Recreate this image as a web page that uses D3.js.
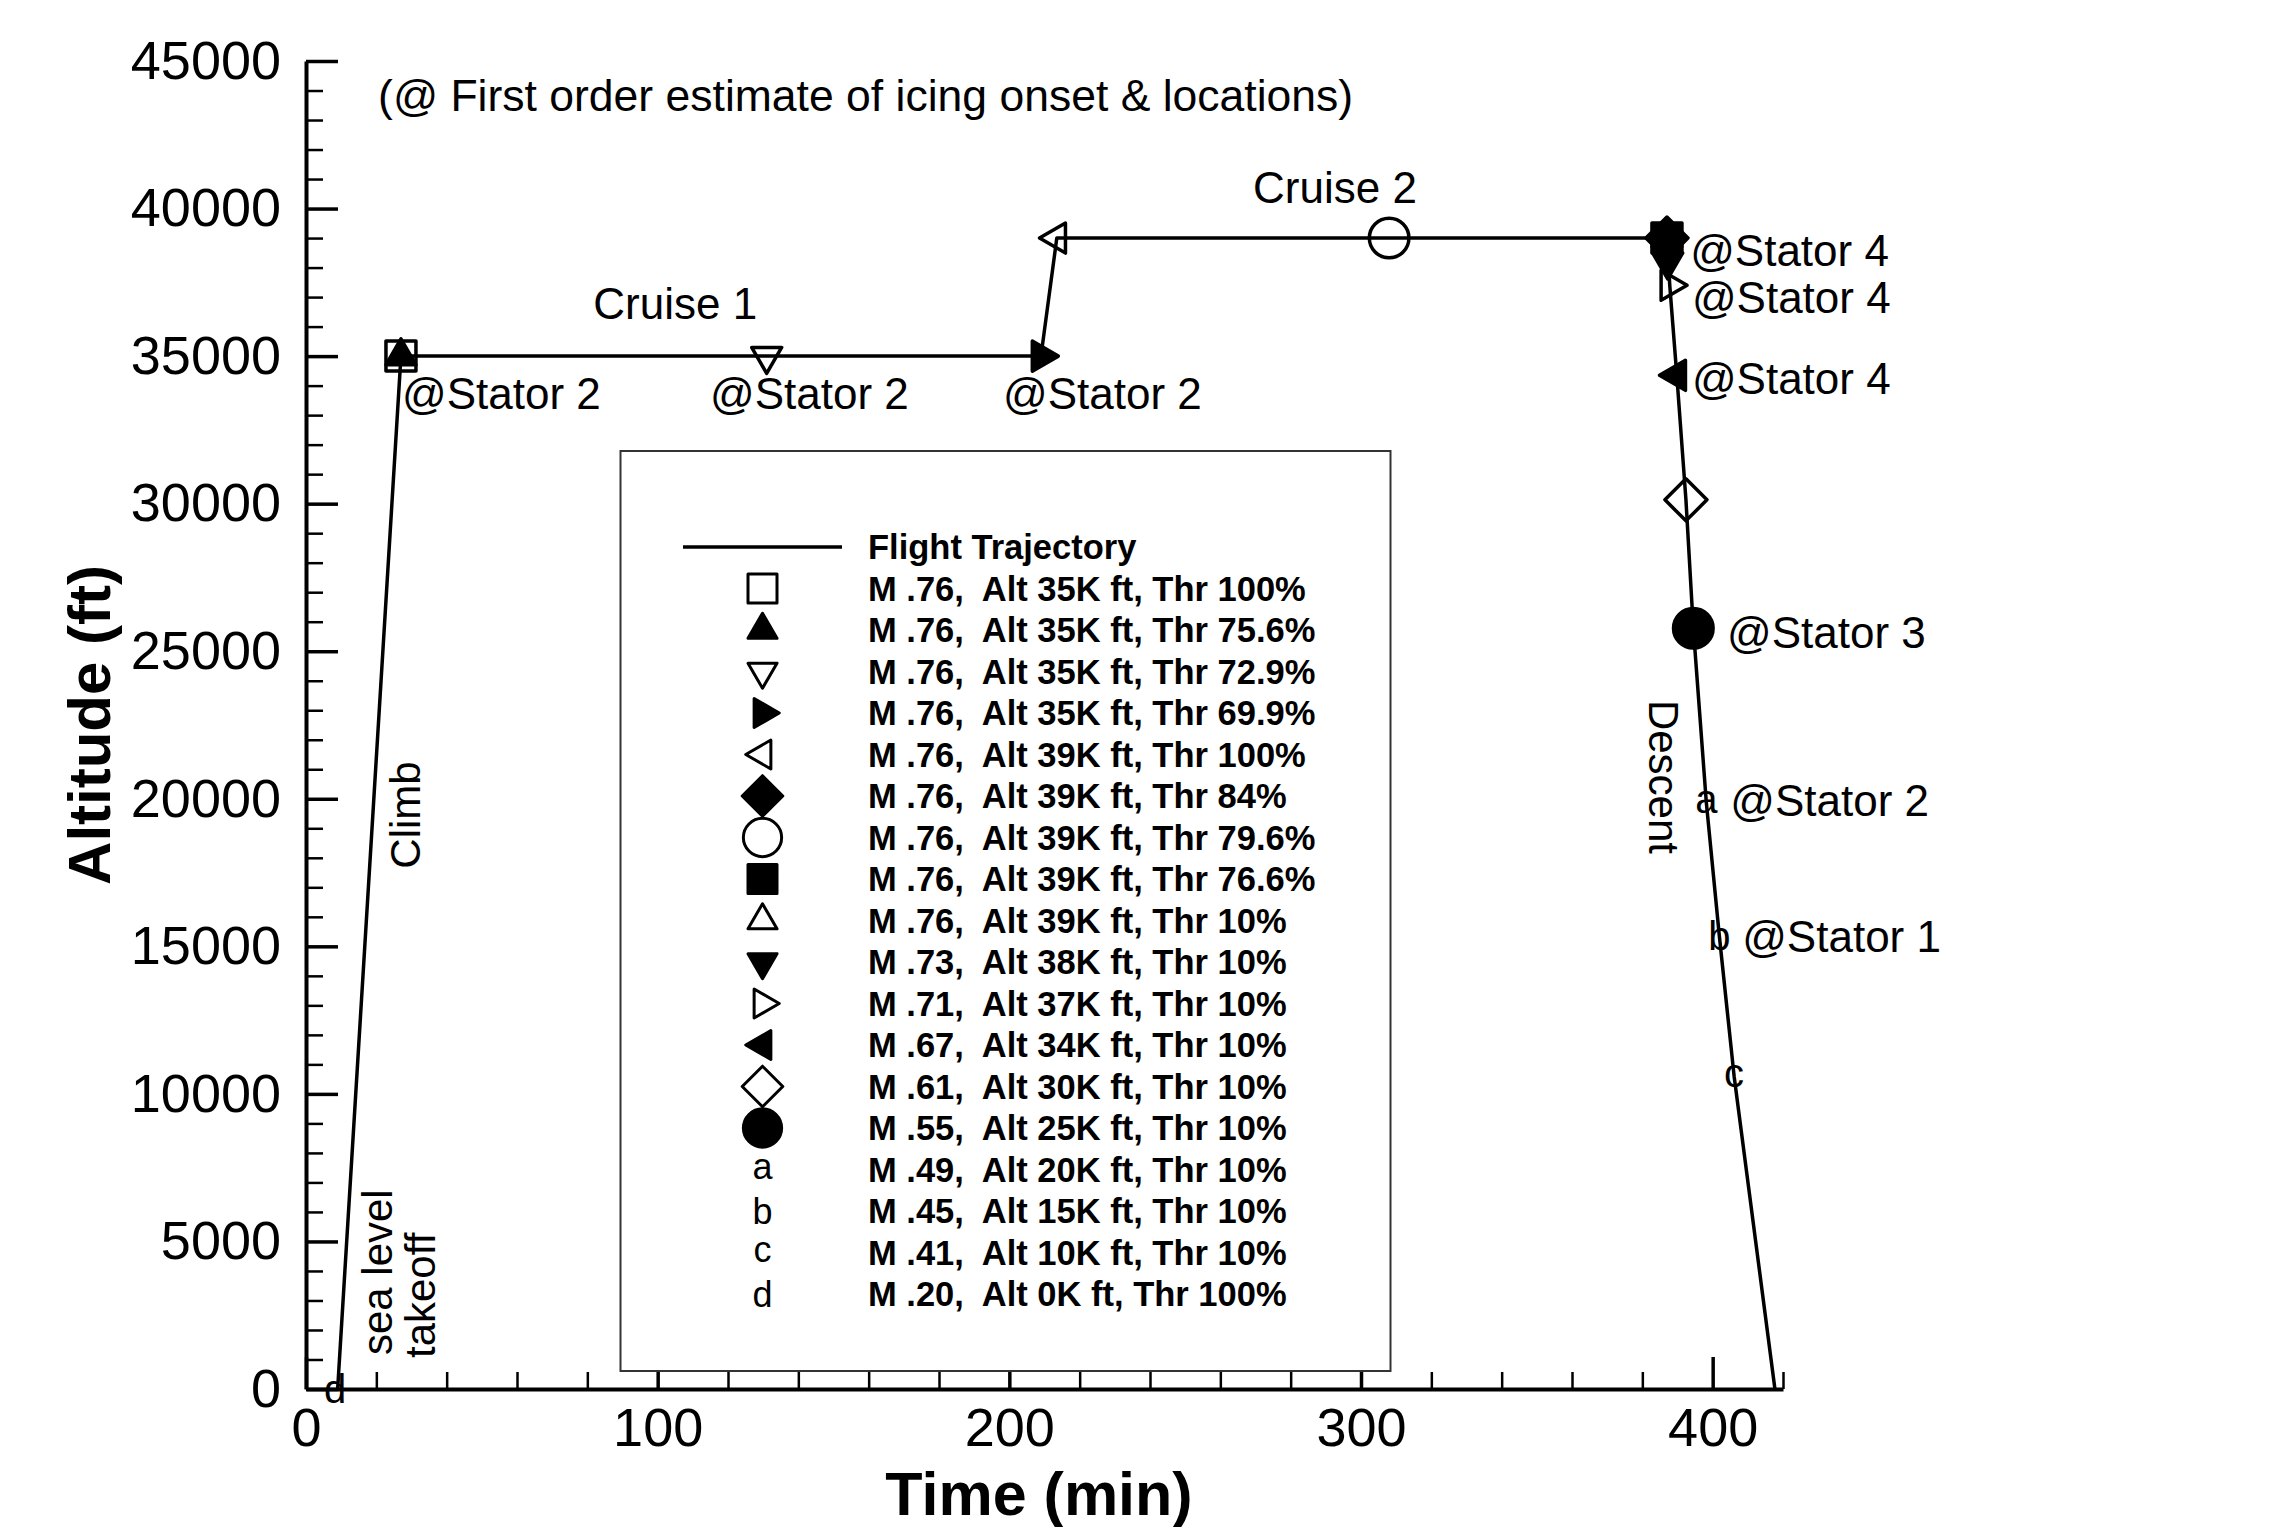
<!DOCTYPE html>
<html>
<head>
<meta charset="utf-8">
<script src="https://cdn.jsdelivr.net/npm/d3@7"></script>
<style>
  body { margin: 0; background: #fff; }
  svg { display: block; font-family: "Liberation Sans", Arial, Helvetica, sans-serif; }
</style>
</head>
<body>
<script>
// flight trajectory: time (min) and altitude (ft)
const trajTime = [9, 27, 209, 213.5, 387, 387.8, 389.8, 392.4, 394.5, 398.2, 401.9, 406.1, 417.7];
const trajAlt = [0, 35000, 35000, 39000, 39000, 37400, 34350, 30130, 25780, 19870, 15350, 10600, 0];

// icing onset points, in legend order
const pointSymbol = ['square', 'triUp', 'triDown', 'triRight', 'triLeft', 'diamond', 'circle', 'square',
  'triUp', 'triDown', 'triRight', 'triLeft', 'diamond', 'circle', 'a', 'b', 'c', 'd'];
const pointFilled = [false, true, false, true, false, true, false, true,
  false, true, false, true, false, true, false, false, false, false];
const pointTime = [27, 27, 131, 209, 213.5, 387, 308, 387, 387, 387.2, 387.8, 389.8, 392.4, 394.5, 398.2, 401.9, 406.1, 8.3];
const pointAlt = [35000, 35000, 35000, 35000, 39000, 39000, 39000, 39000, 39000, 38200, 37400, 34350, 30130, 25780, 19870, 15350, 10600, 0];
const pointLabel = [
  'M .76,  Alt 35K ft, Thr 100%',
  'M .76,  Alt 35K ft, Thr 75.6%',
  'M .76,  Alt 35K ft, Thr 72.9%',
  'M .76,  Alt 35K ft, Thr 69.9%',
  'M .76,  Alt 39K ft, Thr 100%',
  'M .76,  Alt 39K ft, Thr 84%',
  'M .76,  Alt 39K ft, Thr 79.6%',
  'M .76,  Alt 39K ft, Thr 76.6%',
  'M .76,  Alt 39K ft, Thr 10%',
  'M .73,  Alt 38K ft, Thr 10%',
  'M .71,  Alt 37K ft, Thr 10%',
  'M .67,  Alt 34K ft, Thr 10%',
  'M .61,  Alt 30K ft, Thr 10%',
  'M .55,  Alt 25K ft, Thr 10%',
  'M .49,  Alt 20K ft, Thr 10%',
  'M .45,  Alt 15K ft, Thr 10%',
  'M .41,  Alt 10K ft, Thr 10%',
  'M .20,  Alt 0K ft, Thr 100%'
];

// text notes placed in data coordinates
const noteText = ['(@ First order estimate of icing onset & locations)', 'Cruise 1', 'Cruise 2',
  '@Stator 2', '@Stator 2', '@Stator 2', '@Stator 4', '@Stator 4', '@Stator 4', '@Stator 3', '@Stator 2', '@Stator 1'];
const noteTime = [20.5, 105, 292.6, 27.3, 114.9, 198.2, 393.6, 394.1, 394.1, 404.1, 405, 408.4];
const noteAlt = [43300, 36250, 40200, 33200, 33200, 33200, 38050, 36450, 33700, 25100, 19400, 14800];
const noteAnchor = ['start', 'middle', 'middle', 'start', 'start', 'start', 'start', 'start', 'start', 'start', 'start', 'start'];

// rotated flight phase labels
const phaseText = ['Climb', 'Descent', 'sea level', 'takeoff'];
const phaseTime = [32.4, 381.9, 24.5, 36.6];
const phaseAlt = [19450, 20740, 1150, 1050];
const phaseAngle = [-90, 90, -90, -90];
const phaseAnchor = ['middle', 'middle', 'start', 'start'];

// axes
const timeTicks = [0, 100, 200, 300, 400];
const altTicks = [0, 5000, 10000, 15000, 20000, 25000, 30000, 35000, 40000, 45000];

const width = 2295;
const height = 1527;

const x = d3.scaleLinear().domain([0, 420]).range([306, 1783]);
const y = d3.scaleLinear().domain([0, 45000]).range([1389, 61]);

const svg = d3.select('body')
  .append('svg')
  .attr('width', width)
  .attr('height', height)
  .attr('viewBox', [0, 0, width, height]);

svg.append('rect').attr('width', width).attr('height', height).attr('fill', '#fff');

function shape(kind, s) {
  const h = s * 0.866;
  if (kind === 'square') return `M${-s / 2},${-s / 2}h${s}v${s}h${-s}Z`;
  if (kind === 'triUp') return `M0,${-2 * h / 3}L${s / 2},${h / 3}L${-s / 2},${h / 3}Z`;
  if (kind === 'triDown') return `M0,${2 * h / 3}L${s / 2},${-h / 3}L${-s / 2},${-h / 3}Z`;
  if (kind === 'triRight') return `M${2 * h / 3},0L${-h / 3},${s / 2}L${-h / 3},${-s / 2}Z`;
  if (kind === 'triLeft') return `M${-2 * h / 3},0L${h / 3},${s / 2}L${h / 3},${-s / 2}Z`;
  if (kind === 'diamond') {
    const d = s * 0.7;
    return `M0,${-d}L${d},0L0,${d}L${-d},0Z`;
  }
  const r = s * 0.66;
  return `M${r},0A${r},${r} 0 1,1 ${-r},0A${r},${r} 0 1,1 ${r},0Z`;
}

// letter markers: shift so the glyph itself is centred on the point
const letterDy = { a: '0.26em', b: '0.36em', c: '0.26em', d: '0.36em' };

function drawMarker(g, kind, filled, size, letterSize, sw) {
  if (kind.length === 1) {
    g.append('text')
      .attr('text-anchor', 'middle')
      .attr('dy', letterDy[kind])
      .attr('font-size', letterSize)
      .attr('fill', '#000')
      .text(kind);
  } else {
    g.append('path')
      .attr('d', shape(kind, size))
      .attr('fill', filled ? '#000' : 'none')
      .attr('stroke', '#000')
      .attr('stroke-width', sw)
      .attr('stroke-linejoin', 'round');
  }
}

// ---- axes ----
const xAxis = svg.append('g')
  .attr('transform', `translate(0,${y(0)})`)
  .call(d3.axisBottom(x).tickValues(timeTicks).tickFormat(d3.format('d'))
    .tickSizeInner(-32).tickSizeOuter(0).tickPadding(19));
const xMinor = svg.append('g')
  .attr('transform', `translate(0,${y(0)})`)
  .call(d3.axisBottom(x).tickValues(d3.range(0, 421, 20).filter((v) => v % 100 !== 0))
    .tickSize(-17).tickFormat(''));

const yAxis = svg.append('g')
  .attr('transform', `translate(${x(0)},0)`)
  .call(d3.axisLeft(y).tickValues(altTicks).tickFormat(d3.format('d'))
    .tickSizeInner(-32).tickSizeOuter(0).tickPadding(25));
const yMinor = svg.append('g')
  .attr('transform', `translate(${x(0)},0)`)
  .call(d3.axisLeft(y).tickValues(d3.range(0, 45001, 1000).filter((v) => v % 5000 !== 0))
    .tickSize(-17).tickFormat(''));

[xMinor, yMinor].forEach((g) => {
  g.select('.domain').remove();
  g.selectAll('line').attr('stroke', '#000').attr('stroke-width', 2.5);
});
[xAxis, yAxis].forEach((g) => {
  g.select('.domain').attr('stroke', '#000').attr('stroke-width', 4);
  g.selectAll('line').attr('stroke', '#000').attr('stroke-width', 3.5);
  g.selectAll('text')
    .attr('font-family', '"Liberation Sans", Arial, sans-serif')
    .attr('font-size', 54)
    .attr('fill', '#000');
});

svg.append('text')
  .attr('x', 1039)
  .attr('y', 1515)
  .attr('text-anchor', 'middle')
  .attr('font-size', 61)
  .attr('font-weight', 'bold')
  .text('Time (min)');

svg.append('text')
  .attr('transform', `translate(110,${(y(0) + y(45000)) / 2}) rotate(-90)`)
  .attr('text-anchor', 'middle')
  .attr('font-size', 60)
  .attr('font-weight', 'bold')
  .text('Altitude (ft)');

// ---- trajectory ----
const line = d3.line()
  .x((d) => x(d[0]))
  .y((d) => y(d[1]));

svg.append('path')
  .datum(d3.zip(trajTime, trajAlt))
  .attr('d', line)
  .attr('fill', 'none')
  .attr('stroke', '#000')
  .attr('stroke-width', 3.5)
  .attr('stroke-linejoin', 'round');

// ---- points ----
pointSymbol.forEach((kind, i) => {
  const g = svg.append('g')
    .attr('transform', `translate(${x(pointTime[i])},${y(pointAlt[i])})`);
  drawMarker(g, kind, pointFilled[i], 30, 40, 3.5);
});

// ---- notes ----
noteText.forEach((t, i) => {
  svg.append('text')
    .attr('x', x(noteTime[i]))
    .attr('y', y(noteAlt[i]))
    .attr('text-anchor', noteAnchor[i])
    .attr('font-size', i === 0 ? 44.5 : 44)
    .attr('fill', '#000')
    .text(t);
});

phaseText.forEach((t, i) => {
  svg.append('text')
    .attr('transform', `translate(${x(phaseTime[i])},${y(phaseAlt[i])}) rotate(${phaseAngle[i]})`)
    .attr('text-anchor', phaseAnchor[i])
    .attr('font-size', 42)
    .attr('fill', '#000')
    .text(t);
});

// ---- legend ----
const legend = svg.append('g');
legend.append('rect')
  .attr('x', 620.5)
  .attr('y', 451)
  .attr('width', 770)
  .attr('height', 920)
  .attr('fill', '#fff')
  .attr('stroke', '#333')
  .attr('stroke-width', 2);

const rowY = (i) => 547 + i * 41.5;
const symX = 762.5;
const textX = 868;

legend.append('line')
  .attr('x1', 683)
  .attr('x2', 842)
  .attr('y1', rowY(0))
  .attr('y2', rowY(0))
  .attr('stroke', '#000')
  .attr('stroke-width', 3.5);

const legendLabels = ['Flight Trajectory'].concat(pointLabel);
legend.selectAll('text.lab')
  .data(legendLabels)
  .join('text')
  .attr('class', 'lab')
  .attr('x', textX)
  .attr('y', (d, i) => rowY(i))
  .attr('dy', '0.36em')
  .attr('xml:space', 'preserve')
  .style('white-space', 'pre')
  .attr('font-size', 34.5)
  .attr('font-weight', 'bold')
  .attr('fill', '#000')
  .text((d) => d);

pointSymbol.forEach((kind, i) => {
  const g = legend.append('g')
    .attr('transform', `translate(${symX},${rowY(i + 1)})`);
  drawMarker(g, kind, pointFilled[i], 29, 36, 3);
});
</script>
</body>
</html>
